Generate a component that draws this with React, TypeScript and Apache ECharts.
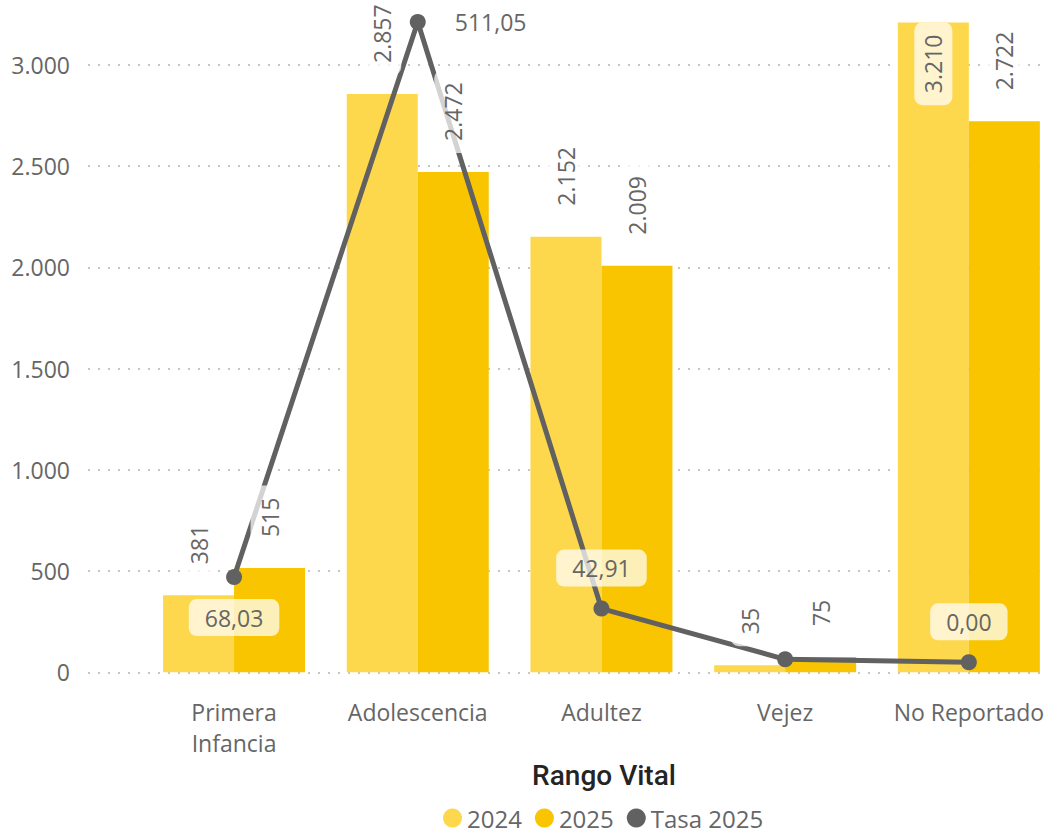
import React, { useEffect, useRef } from 'react';
import * as echarts from 'echarts';

const categories = ['Primera Infancia', 'Adolescencia', 'Adultez', 'Vejez', 'No Reportado'];
const values2024 = [381, 2857, 2152, 35, 3210];
const values2025 = [515, 2472, 2009, 75, 2722];
const tasa2025 = [68.03, 511.05, 42.91, 2.4, 0.0];
const seriesNames = ['2024', '2025', 'Tasa 2025'];
const axisTitle = 'Rango Vital';

const FONT = "'Open Sans', 'Noto Sans', sans-serif";
const FS = 23;
const C2024 = '#FDD84C';
const C2025 = '#F8C500';
const CLINE = '#616161';
const TXT = '#666666';

const fmtInt = (v: number) => String(Math.round(v)).replace(/\B(?=(\d{3})+(?!\d))/g, '.');
const fmtDec = (v: number) => v.toFixed(2).replace('.', ',');

const Y_MAX = 3300;
const LINE_MIN = -7.98;
const LINE_MAX = 525.2;
const GRID_TOP = 4.3;
const GRID_BOTTOM = 161.7;
const BAR_W = 71;

const labelBox = {
  fontSize: FS,
  fontFamily: FONT,
  color: TXT,
  backgroundColor: 'rgba(255,255,255,0.72)',
  borderRadius: 8,
};

const barLabelFor = (v: number) =>
  v < 3000
    ? { show: true, position: 'top', distance: 19, rotate: 90, align: 'left', verticalAlign: 'middle' }
    : { show: true, position: 'insideTop', distance: 0, rotate: 90, align: 'right', verticalAlign: 'middle' };

const tasaLabelPos = ['bottom', 'right', 'top', null, 'top'];

export default function App() {
  const ref = useRef<HTMLDivElement>(null);
  useEffect(() => {
    if (!ref.current) return;
    const chart = echarts.init(ref.current, undefined, { renderer: 'svg' });

    const overlay = (name: string, vals: number[]) => ({
      type: 'bar',
      name,
      xAxisIndex: 2,
      yAxisIndex: 1,
      barWidth: BAR_W,
      barGap: '0%',
      z: 4,
      silent: true,
      itemStyle: { color: 'rgba(0,0,0,0)' },
      emphasis: { disabled: true },
      label: {
        ...labelBox,
        padding: [6, 12],
        lineHeight: 26,
        formatter: (p: any) => fmtInt(p.value),
      },
      data: vals.map((v) => ({ value: v, label: barLabelFor(v) })),
    });

    const option: any = {
      animation: false,
      textStyle: { fontFamily: FONT },
      grid: [
        { left: 88, right: 2, top: GRID_TOP, bottom: GRID_BOTTOM, outerBoundsMode: 'none', containLabel: false },
        { left: 142.2, width: 918.5, top: GRID_TOP, bottom: GRID_BOTTOM, outerBoundsMode: 'none', containLabel: false },
      ],
      xAxis: [
        { gridIndex: 0, type: 'value', min: 0, max: 1, show: false },
        {
          gridIndex: 1,
          type: 'category',
          data: categories,
          axisLine: { show: false },
          axisTick: { show: false },
          axisLabel: {
            fontSize: FS,
            fontFamily: FONT,
            color: TXT,
            margin: 24,
            lineHeight: 31,
            interval: 0,
            formatter: (v: string) => (v === 'Primera Infancia' ? 'Primera\nInfancia' : v),
          },
        },
        { gridIndex: 1, type: 'category', data: categories, show: false },
      ],
      yAxis: [
        {
          gridIndex: 0,
          type: 'value',
          min: 0,
          max: Y_MAX,
          interval: 500,
          axisLine: { show: false },
          axisTick: { show: false },
          axisLabel: {
            fontSize: FS,
            fontFamily: FONT,
            color: TXT,
            margin: 18,
            showMaxLabel: false,
            formatter: (v: number) => fmtInt(v),
          },
          splitLine: {
            show: true,
            showMaxLine: false,
            lineStyle: { color: '#C8C6C4', width: 2, type: [2, 8] },
          },
        },
        { gridIndex: 1, type: 'value', min: 0, max: Y_MAX, show: false, splitLine: { show: false } },
        { gridIndex: 1, type: 'value', min: LINE_MIN, max: LINE_MAX, show: false, splitLine: { show: false } },
      ],
      legend: {
        data: seriesNames,
        left: 438,
        top: 801,
        icon: 'circle',
        itemWidth: 19,
        itemHeight: 19,
        itemGap: 13,
        selectedMode: false,
        textStyle: { fontSize: 24, color: TXT, fontFamily: FONT, lineHeight: 24 },
      },
      graphic: [
        {
          type: 'text',
          x: 604,
          y: 775,
          style: {
            text: axisTitle,
            fontSize: 28,
            fontWeight: 500,
            fontFamily: 'Roboto, sans-serif',
            fill: '#252423',
            align: 'center',
            verticalAlign: 'middle',
            textAlign: 'center',
            textVerticalAlign: 'middle',
          },
        },
      ],
      series: [
        {
          type: 'bar',
          name: seriesNames[0],
          xAxisIndex: 1,
          yAxisIndex: 1,
          barWidth: BAR_W,
          barGap: '0%',
          z: 2,
          itemStyle: { color: C2024 },
          emphasis: { disabled: true },
          data: values2024,
        },
        {
          type: 'bar',
          name: seriesNames[1],
          xAxisIndex: 1,
          yAxisIndex: 1,
          barWidth: BAR_W,
          barGap: '0%',
          z: 2,
          itemStyle: { color: C2025 },
          emphasis: { disabled: true },
          data: values2025,
        },
        {
          type: 'line',
          name: seriesNames[2],
          xAxisIndex: 1,
          yAxisIndex: 2,
          z: 3,
          symbol: 'circle',
          symbolSize: 16,
          itemStyle: { color: CLINE },
          lineStyle: { color: CLINE, width: 5 },
          emphasis: { disabled: true },
          label: {
            ...labelBox,
            padding: [5, 16],
            lineHeight: 27,
            formatter: (p: any) => fmtDec(p.value),
          },
          data: tasa2025.map((v, i) => {
            const pos = tasaLabelPos[i];
            return {
              value: v,
              label: pos
                ? { show: true, position: pos, distance: pos === 'right' ? 13 : 14 }
                : { show: false },
            };
          }),
        },
        overlay('lbl2024', values2024),
        overlay('lbl2025', values2025),
      ],
    };
    chart.setOption(option);
    return () => chart.dispose();
  }, []);

  return (
    <div
      ref={ref}
      style={{ position: 'absolute', left: 0, top: 0, width: 1048, height: 834, background: '#fff' }}
    />
  );
}
